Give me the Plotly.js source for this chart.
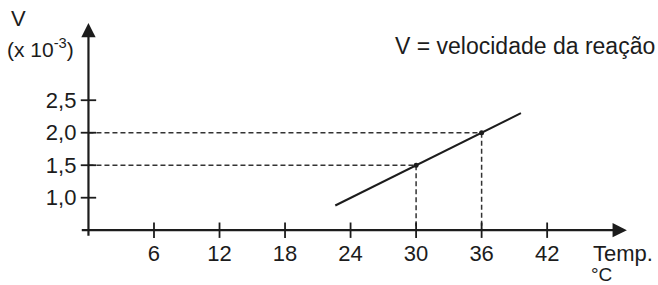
<!DOCTYPE html>
<html>
<head>
<meta charset="utf-8">
<script src="https://cdn.plot.ly/plotly-3.0.1.min.js"></script>
<style>html,body{margin:0;padding:0;background:#fff;}#chart{width:658px;height:285px;}</style>
</head>
<body>
<div id="chart"></div>
<script>
// ---- data ----
var xTicks = [6, 12, 18, 24, 30, 36, 42];
var xTickLabels = ['6', '12', '18', '24', '30', '36', '42'];
var yTicks = [1.0, 1.5, 2.0, 2.5];
var yTickLabels = ['1,0', '1,5', '2,0', '2,5'];
var lineX = [22.6, 39.6];          // temperature (°C) – ends of the drawn line
var lineY = [0.88, 2.30];          // V (x 10^-3)
var pointX = [30, 36];             // marked points
var pointY = [1.5, 2.0];
var axisOriginY = 0.5;             // value where the temperature axis crosses
var axisXStart = -0.75;
var axisXEnd = 49.3;               // arrow tip of temperature axis
var axisYStart = 0.39;
var axisYEnd = 3.69;               // arrow tip of V axis

var xRange = [-8.10, 52.15];
var yRange = [-0.343, 4.042];
var ink = '#1c1c1c';
var font = 'Liberation Sans, Arial, Helvetica, sans-serif';

var traces = [];
// dashed guides
for (var i = 0; i < pointX.length; i++) {
  traces.push({x: [0, pointX[i]], y: [pointY[i], pointY[i]], mode: 'lines',
    line: {color: '#333', width: 1.5, dash: '5px,3px'}, hoverinfo: 'skip', showlegend: false});
  traces.push({x: [pointX[i], pointX[i]], y: [pointY[i], axisOriginY], mode: 'lines',
    line: {color: '#333', width: 1.5, dash: '5px,3px'}, hoverinfo: 'skip', showlegend: false});
}
// main line
traces.push({x: lineX, y: lineY, mode: 'lines', line: {color: ink, width: 2},
  hoverinfo: 'skip', showlegend: false});
// points
traces.push({x: pointX, y: pointY, mode: 'markers', marker: {color: ink, size: 5},
  hoverinfo: 'skip', showlegend: false});
// tick marks crossing the axes
traces.push({x: xTicks, y: xTicks.map(function(){return axisOriginY;}), mode: 'markers',
  marker: {symbol: 'line-ns-open', size: 11, color: ink, line: {color: ink, width: 1.8}},
  hoverinfo: 'skip', showlegend: false});
traces.push({x: yTicks.map(function(){return 0;}), y: yTicks, mode: 'markers',
  marker: {symbol: 'line-ew-open', size: 11, color: ink, line: {color: ink, width: 1.8}},
  hoverinfo: 'skip', showlegend: false});

var xPos = (axisOriginY - yRange[0]) / (yRange[1] - yRange[0]);
var yPos = (0 - xRange[0]) / (xRange[1] - xRange[0]);

var layout = {
  width: 658, height: 285,
  margin: {l: 0, r: 0, t: 0, b: 0},
  paper_bgcolor: '#fff', plot_bgcolor: '#fff',
  font: {family: font, color: ink, size: 21},
  xaxis: {range: xRange, domain: [0, 1], anchor: 'free', position: xPos,
    showgrid: false, zeroline: false, showline: false, ticks: '',
    tickmode: 'array', tickvals: xTicks, ticktext: xTickLabels,
    ticklabelstandoff: 8, tickfont: {size: 22, color: ink, family: font}},
  yaxis: {range: yRange, domain: [0, 1], anchor: 'free', position: yPos,
    showgrid: false, zeroline: false, showline: false, ticks: '',
    tickmode: 'array', tickvals: yTicks, ticktext: yTickLabels,
    ticklabelstandoff: 12, tickfont: {size: 22, color: ink, family: font}},
  annotations: [
    {x: axisXEnd, y: axisOriginY, ax: axisXStart, ay: axisOriginY, xref: 'x', yref: 'y', axref: 'x', ayref: 'y',
      text: '', showarrow: true, arrowhead: 2, arrowsize: 1.3, arrowwidth: 2.2, arrowcolor: ink},
    {x: 0, y: axisYEnd, ax: 0, ay: axisYStart, xref: 'x', yref: 'y', axref: 'x', ayref: 'y',
      text: '', showarrow: true, arrowhead: 2, arrowsize: 1.3, arrowwidth: 2.2, arrowcolor: ink},
    {x: 9 / 658, y: 1 - 19 / 285, xref: 'paper', yref: 'paper', xanchor: 'left', yanchor: 'middle',
      text: 'V', showarrow: false, font: {size: 22}},
    {x: 5 / 658, y: 1 - 48 / 285, xref: 'paper', yref: 'paper', xanchor: 'left', yanchor: 'middle',
      text: '(x 10<sup>-3</sup>)', showarrow: false, font: {size: 21}},
    {x: 393 / 658, y: 1 - 46 / 285, xref: 'paper', yref: 'paper', xanchor: 'left', yanchor: 'middle',
      text: 'V = velocidade da reação', showarrow: false, font: {size: 23}},
    {x: 591 / 658, y: 1 - 253 / 285, xref: 'paper', yref: 'paper', xanchor: 'left', yanchor: 'middle',
      text: 'Temp.', showarrow: false, font: {size: 22}},
    {x: 589 / 658, y: 1 - 274 / 285, xref: 'paper', yref: 'paper', xanchor: 'left', yanchor: 'middle',
      text: '°C', showarrow: false, font: {size: 19}}
  ]
};

Plotly.newPlot('chart', traces, layout, {staticPlot: true, displayModeBar: false});
</script>
</body>
</html>
